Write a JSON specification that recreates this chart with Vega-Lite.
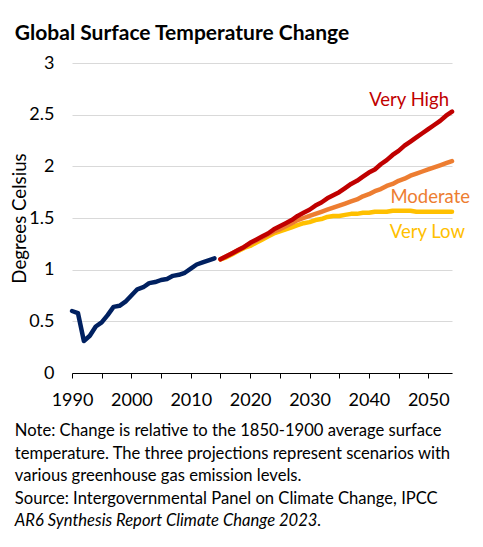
{
  "$schema": "https://vega.github.io/schema/vega-lite/v6.json",
  "background": "white",
  "padding": {"left": 10, "top": 23, "right": 5, "bottom": 5},
  "config": {"font": "Lato", "view": {"stroke": null}, "concat": {"spacing": 0}},
  "title": {"text": "Global Surface Temperature Change", "anchor": "start", "frame": "bounds", "fontSize": 21, "fontWeight": "bold", "font": "Lato", "color": "#000000", "offset": 10, "dx": 4},
  "datasets": {
    "temps": [
      {"series": "Very Low", "year": 2015, "value": 1.10},
      {"series": "Very Low", "year": 2016, "value": 1.12},
      {"series": "Very Low", "year": 2017, "value": 1.15},
      {"series": "Very Low", "year": 2018, "value": 1.18},
      {"series": "Very Low", "year": 2019, "value": 1.21},
      {"series": "Very Low", "year": 2020, "value": 1.23},
      {"series": "Very Low", "year": 2021, "value": 1.26},
      {"series": "Very Low", "year": 2022, "value": 1.29},
      {"series": "Very Low", "year": 2023, "value": 1.32},
      {"series": "Very Low", "year": 2024, "value": 1.35},
      {"series": "Very Low", "year": 2025, "value": 1.37},
      {"series": "Very Low", "year": 2026, "value": 1.39},
      {"series": "Very Low", "year": 2027, "value": 1.41},
      {"series": "Very Low", "year": 2028, "value": 1.43},
      {"series": "Very Low", "year": 2029, "value": 1.45},
      {"series": "Very Low", "year": 2030, "value": 1.46},
      {"series": "Very Low", "year": 2031, "value": 1.48},
      {"series": "Very Low", "year": 2032, "value": 1.49},
      {"series": "Very Low", "year": 2033, "value": 1.51},
      {"series": "Very Low", "year": 2034, "value": 1.52},
      {"series": "Very Low", "year": 2035, "value": 1.52},
      {"series": "Very Low", "year": 2036, "value": 1.53},
      {"series": "Very Low", "year": 2037, "value": 1.54},
      {"series": "Very Low", "year": 2038, "value": 1.54},
      {"series": "Very Low", "year": 2039, "value": 1.55},
      {"series": "Very Low", "year": 2040, "value": 1.55},
      {"series": "Very Low", "year": 2041, "value": 1.56},
      {"series": "Very Low", "year": 2042, "value": 1.56},
      {"series": "Very Low", "year": 2043, "value": 1.56},
      {"series": "Very Low", "year": 2044, "value": 1.57},
      {"series": "Very Low", "year": 2045, "value": 1.57},
      {"series": "Very Low", "year": 2046, "value": 1.57},
      {"series": "Very Low", "year": 2047, "value": 1.57},
      {"series": "Very Low", "year": 2048, "value": 1.56},
      {"series": "Very Low", "year": 2049, "value": 1.56},
      {"series": "Very Low", "year": 2050, "value": 1.56},
      {"series": "Very Low", "year": 2051, "value": 1.56},
      {"series": "Very Low", "year": 2052, "value": 1.56},
      {"series": "Very Low", "year": 2053, "value": 1.56},
      {"series": "Very Low", "year": 2054, "value": 1.56},
      {"series": "Moderate", "year": 2015, "value": 1.10},
      {"series": "Moderate", "year": 2016, "value": 1.13},
      {"series": "Moderate", "year": 2017, "value": 1.16},
      {"series": "Moderate", "year": 2018, "value": 1.19},
      {"series": "Moderate", "year": 2019, "value": 1.22},
      {"series": "Moderate", "year": 2020, "value": 1.25},
      {"series": "Moderate", "year": 2021, "value": 1.28},
      {"series": "Moderate", "year": 2022, "value": 1.31},
      {"series": "Moderate", "year": 2023, "value": 1.34},
      {"series": "Moderate", "year": 2024, "value": 1.37},
      {"series": "Moderate", "year": 2025, "value": 1.39},
      {"series": "Moderate", "year": 2026, "value": 1.42},
      {"series": "Moderate", "year": 2027, "value": 1.45},
      {"series": "Moderate", "year": 2028, "value": 1.48},
      {"series": "Moderate", "year": 2029, "value": 1.50},
      {"series": "Moderate", "year": 2030, "value": 1.52},
      {"series": "Moderate", "year": 2031, "value": 1.54},
      {"series": "Moderate", "year": 2032, "value": 1.56},
      {"series": "Moderate", "year": 2033, "value": 1.58},
      {"series": "Moderate", "year": 2034, "value": 1.60},
      {"series": "Moderate", "year": 2035, "value": 1.62},
      {"series": "Moderate", "year": 2036, "value": 1.64},
      {"series": "Moderate", "year": 2037, "value": 1.66},
      {"series": "Moderate", "year": 2038, "value": 1.68},
      {"series": "Moderate", "year": 2039, "value": 1.71},
      {"series": "Moderate", "year": 2040, "value": 1.73},
      {"series": "Moderate", "year": 2041, "value": 1.76},
      {"series": "Moderate", "year": 2042, "value": 1.78},
      {"series": "Moderate", "year": 2043, "value": 1.81},
      {"series": "Moderate", "year": 2044, "value": 1.83},
      {"series": "Moderate", "year": 2045, "value": 1.86},
      {"series": "Moderate", "year": 2046, "value": 1.88},
      {"series": "Moderate", "year": 2047, "value": 1.91},
      {"series": "Moderate", "year": 2048, "value": 1.93},
      {"series": "Moderate", "year": 2049, "value": 1.95},
      {"series": "Moderate", "year": 2050, "value": 1.97},
      {"series": "Moderate", "year": 2051, "value": 1.99},
      {"series": "Moderate", "year": 2052, "value": 2.01},
      {"series": "Moderate", "year": 2053, "value": 2.03},
      {"series": "Moderate", "year": 2054, "value": 2.05},
      {"series": "Very High", "year": 2015, "value": 1.10},
      {"series": "Very High", "year": 2016, "value": 1.13},
      {"series": "Very High", "year": 2017, "value": 1.16},
      {"series": "Very High", "year": 2018, "value": 1.19},
      {"series": "Very High", "year": 2019, "value": 1.22},
      {"series": "Very High", "year": 2020, "value": 1.26},
      {"series": "Very High", "year": 2021, "value": 1.29},
      {"series": "Very High", "year": 2022, "value": 1.32},
      {"series": "Very High", "year": 2023, "value": 1.35},
      {"series": "Very High", "year": 2024, "value": 1.39},
      {"series": "Very High", "year": 2025, "value": 1.42},
      {"series": "Very High", "year": 2026, "value": 1.45},
      {"series": "Very High", "year": 2027, "value": 1.48},
      {"series": "Very High", "year": 2028, "value": 1.52},
      {"series": "Very High", "year": 2029, "value": 1.55},
      {"series": "Very High", "year": 2030, "value": 1.58},
      {"series": "Very High", "year": 2031, "value": 1.62},
      {"series": "Very High", "year": 2032, "value": 1.65},
      {"series": "Very High", "year": 2033, "value": 1.69},
      {"series": "Very High", "year": 2034, "value": 1.72},
      {"series": "Very High", "year": 2035, "value": 1.75},
      {"series": "Very High", "year": 2036, "value": 1.79},
      {"series": "Very High", "year": 2037, "value": 1.83},
      {"series": "Very High", "year": 2038, "value": 1.86},
      {"series": "Very High", "year": 2039, "value": 1.90},
      {"series": "Very High", "year": 2040, "value": 1.94},
      {"series": "Very High", "year": 2041, "value": 1.97},
      {"series": "Very High", "year": 2042, "value": 2.02},
      {"series": "Very High", "year": 2043, "value": 2.06},
      {"series": "Very High", "year": 2044, "value": 2.11},
      {"series": "Very High", "year": 2045, "value": 2.15},
      {"series": "Very High", "year": 2046, "value": 2.20},
      {"series": "Very High", "year": 2047, "value": 2.24},
      {"series": "Very High", "year": 2048, "value": 2.28},
      {"series": "Very High", "year": 2049, "value": 2.32},
      {"series": "Very High", "year": 2050, "value": 2.36},
      {"series": "Very High", "year": 2051, "value": 2.40},
      {"series": "Very High", "year": 2052, "value": 2.44},
      {"series": "Very High", "year": 2053, "value": 2.49},
      {"series": "Very High", "year": 2054, "value": 2.53},
      {"series": "Historical", "year": 1990, "value": 0.60},
      {"series": "Historical", "year": 1991, "value": 0.58},
      {"series": "Historical", "year": 1992, "value": 0.31},
      {"series": "Historical", "year": 1993, "value": 0.36},
      {"series": "Historical", "year": 1994, "value": 0.45},
      {"series": "Historical", "year": 1995, "value": 0.49},
      {"series": "Historical", "year": 1996, "value": 0.56},
      {"series": "Historical", "year": 1997, "value": 0.64},
      {"series": "Historical", "year": 1998, "value": 0.65},
      {"series": "Historical", "year": 1999, "value": 0.69},
      {"series": "Historical", "year": 2000, "value": 0.75},
      {"series": "Historical", "year": 2001, "value": 0.81},
      {"series": "Historical", "year": 2002, "value": 0.83},
      {"series": "Historical", "year": 2003, "value": 0.87},
      {"series": "Historical", "year": 2004, "value": 0.88},
      {"series": "Historical", "year": 2005, "value": 0.90},
      {"series": "Historical", "year": 2006, "value": 0.91},
      {"series": "Historical", "year": 2007, "value": 0.94},
      {"series": "Historical", "year": 2008, "value": 0.95},
      {"series": "Historical", "year": 2009, "value": 0.97},
      {"series": "Historical", "year": 2010, "value": 1.01},
      {"series": "Historical", "year": 2011, "value": 1.05},
      {"series": "Historical", "year": 2012, "value": 1.07},
      {"series": "Historical", "year": 2013, "value": 1.09},
      {"series": "Historical", "year": 2014, "value": 1.11}
    ]
  },
  "vconcat": [
    {
      "width": 380,
      "height": 310,
      "data": {"name": "temps"},
      "title": {
        "text": [
          "Note: Change is relative to the 1850-1900 average surface",
          "temperature. The three projections represent scenarios with",
          "various greenhouse gas emission levels.",
          "Source: Intergovernmental Panel on Climate Change, IPCC"
        ],
        "subtitle": "AR6 Synthesis Report Climate Change 2023.",
        "orient": "bottom",
        "anchor": "start",
        "frame": "bounds",
        "font": "Lato",
        "fontSize": 16.6,
        "fontWeight": "normal",
        "color": "#000000",
        "lineHeight": 22.5,
        "subtitleFont": "Lato",
        "subtitleFontSize": 16.6,
        "subtitleFontStyle": "italic",
        "subtitleColor": "#000000",
        "subtitleLineHeight": 22.5,
        "subtitlePadding": 6,
        "offset": 14,
        "dx": 4
      },
      "encoding": {
        "x": {
          "field": "year",
          "type": "quantitative",
          "scale": {"domain": [1990, 2054], "nice": false, "zero": false},
          "axis": {
            "title": null,
            "values": [1990, 1995, 2000, 2005, 2010, 2015, 2020, 2025, 2030, 2035, 2040, 2045, 2050],
            "format": "d",
            "labelExpr": "datum.value % 10 == 0 ? datum.label : ''",
            "grid": false,
            "domainColor": "#000000",
            "domainWidth": 1,
            "tickColor": "#000000",
            "tickSize": 5,
            "labelFontSize": 18,
            "labelColor": "#000000",
            "labelPadding": 13,
            "labelFont": "Lato",
            "labelFlush": false
          }
        },
        "y": {
          "field": "value",
          "type": "quantitative",
          "scale": {"domain": [0, 3], "nice": false},
          "axis": {
            "title": "Degrees Celsius",
            "titleFontSize": 18.7,
            "titleFontWeight": "normal",
            "titleColor": "#000000",
            "titleFont": "Lato",
            "titlePadding": -1,
            "values": [0, 0.5, 1, 1.5, 2, 2.5, 3],
            "format": "~g",
            "grid": true,
            "gridColor": "#D9D9D9",
            "gridWidth": 1,
            "domain": false,
            "ticks": false,
            "labelFontSize": 18,
            "labelColor": "#000000",
            "labelPadding": 18,
            "labelFont": "Lato"
          }
        }
      },
      "layer": [
        {
          "mark": {"type": "line", "strokeWidth": 4.5, "strokeCap": "round", "strokeJoin": "round"},
          "encoding": {
            "color": {
              "field": "series",
              "type": "nominal",
              "scale": {"domain": ["Very Low", "Moderate", "Very High", "Historical"], "range": ["#FFC000", "#ED7D31", "#C00000", "#002060"]},
              "legend": null
            }
          }
        },
        {
          "transform": [{"filter": "datum.series == 'Very High' && datum.year == 2054"}],
          "mark": {"type": "text", "align": "right", "baseline": "middle", "dx": -3, "dy": -12, "fontSize": 18.5, "font": "Lato", "color": "#C00000"},
          "encoding": {"text": {"field": "series"}}
        },
        {
          "transform": [{"filter": "datum.series == 'Moderate' && datum.year == 2054"}],
          "mark": {"type": "text", "align": "right", "baseline": "middle", "dx": 18, "dy": 36, "fontSize": 18.5, "font": "Lato", "color": "#ED7D31"},
          "encoding": {"text": {"field": "series"}}
        },
        {
          "transform": [{"filter": "datum.series == 'Very Low' && datum.year == 2054"}],
          "mark": {"type": "text", "align": "right", "baseline": "middle", "dx": 13, "dy": 20.5, "fontSize": 18.5, "font": "Lato", "color": "#FFC000"},
          "encoding": {"text": {"field": "series"}}
        }
      ]
    }
  ]
}
